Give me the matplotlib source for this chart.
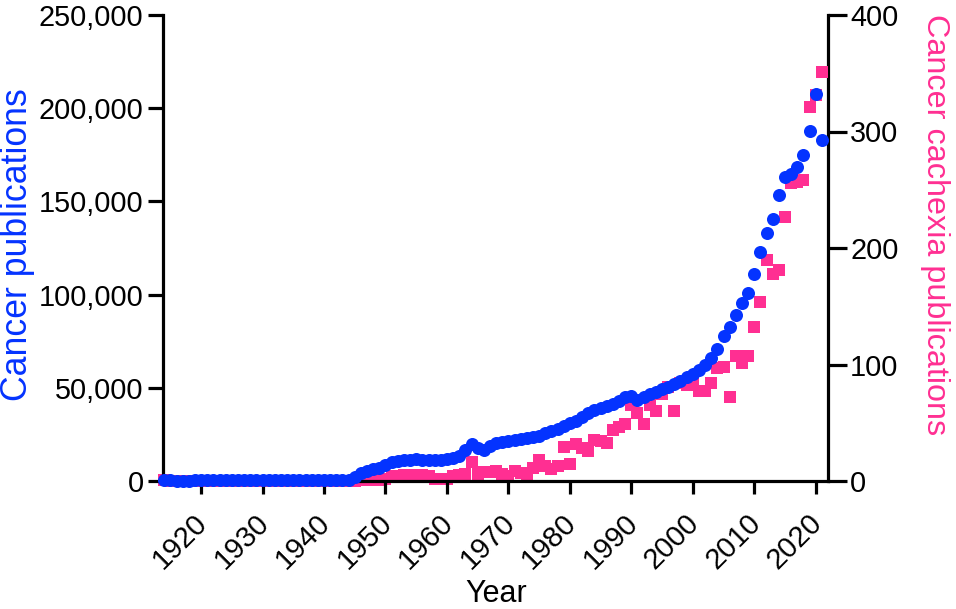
import matplotlib
matplotlib.use("Agg")
import matplotlib.pyplot as plt
import matplotlib.transforms as mtransforms
from matplotlib.ticker import FuncFormatter

plt.rcParams['font.family'] = ['Liberation Sans', 'DejaVu Sans']

years = list(range(1914, 2022))

cancer_pubs = [
    300, 280, 250, 220, 240, 300, 350, 380, 400, 420,
    450, 480, 500, 520, 540, 560, 580, 600, 620, 640,
    650, 660, 680, 700, 690, 650, 600, 550, 520, 560, 700,      # 1914-1944
    2000, 4100, 5500, 6500, 7000, 8800, 10200, 10800, 11200, 11400,  # 1945-1954
    11600, 11300, 11100, 11100, 11300, 11600, 12300, 13500, 16500, 19800,  # 1955-1964
    17500, 16600, 18800, 20200, 20900, 21500, 22000, 22700, 23200, 23800,  # 1965-1974
    24300, 25600, 26800, 28100, 29700, 31100, 32400, 34500, 36600, 38300,  # 1975-1984
    39300, 40400, 41300, 43100, 45200, 45800, 43500, 45100, 46500, 47900,  # 1985-1994
    49400, 50600, 52200, 53800, 55600, 57400, 59600, 62200, 66000, 70700,  # 1995-2004
    77600, 82800, 89000, 95500, 101100, 111200, 122600, 132900, 140400, 153400,  # 2005-2014
    163300, 164500, 168600, 174900, 187900, 207500, 182900,  # 2015-2021
]

cachexia_pubs = [
    1, 0, 0, 0, 0, 0, 0, 0, 0, 0,
    0, 0, 0, 0, 0, 0, 0, 0, 0, 0,
    0, 0, 0, 0, 0, 0, 0, 0, 0, 0, 0, 0,    # 1914-1945
    1, 1, 1, 1, 2, 4, 4, 5, 5,             # 1946-1954
    4, 5, 4, 2, 2, 2, 4, 5, 6, 16,         # 1955-1964
    6, 8, 8, 9, 6, 4, 9, 7, 5, 11,         # 1965-1974
    18, 13, 10, 13, 29, 15, 32, 28, 26, 35,  # 1975-1984
    34, 33, 44, 46, 49, 65, 58, 49, 65, 60,  # 1985-1994
    75, 81, 60, 84, 82, 85, 77, 77, 84, 97,  # 1995-2004
    98, 72, 107, 101, 107, 132, 154, 190, 178, 181,  # 2005-2014
    227, 256, 257, 258, 321, 331, 351,     # 2015-2021
]

left_ticks = [0, 50000, 100000, 150000, 200000, 250000]
right_ticks = [0, 100, 200, 300, 400]
x_ticks = [1920, 1930, 1940, 1950, 1960, 1970, 1980, 1990, 2000, 2010, 2020]

BLUE = '#0433FF'
PINK = '#FF2F92'

W, H = 956, 609
fig = plt.figure(figsize=(W / 100, H / 100), dpi=100)
ax = fig.add_axes([163 / W, 1 - 481 / H, (828 - 163) / W, (481 - 15) / H])
ax2 = ax.twinx()

ax2.scatter(years, cachexia_pubs, marker='s', s=82, color=PINK, linewidths=0,
            clip_on=False, zorder=3)
ax.scatter(years, cancer_pubs, marker='o', s=88, color=BLUE, linewidths=0,
           clip_on=False, zorder=4)

ax.set_zorder(ax2.get_zorder() + 1)
ax.patch.set_visible(False)

ax.set_xlim(1913.8, 2022)
ax.set_ylim(0, 250000)
ax2.set_ylim(0, 400)

ax.set_xticks(x_ticks)
ax.set_yticks(left_ticks)
ax2.set_yticks(right_ticks)
ax.yaxis.set_major_formatter(FuncFormatter(lambda v, p: f"{int(v):,}"))

lw = 2.3
for a in (ax, ax2):
    a.spines['top'].set_visible(False)
    for s in a.spines.values():
        s.set_linewidth(lw)
ax.spines['right'].set_visible(False)
ax2.spines['left'].set_visible(False)
ax2.spines['bottom'].set_visible(False)

ax.tick_params(axis='x', direction='out', length=9.5, width=lw, labelsize=21, pad=6)
ax.tick_params(axis='y', direction='out', length=11, width=lw, labelsize=20.8, pad=3)
ax2.tick_params(axis='y', direction='out', length=14, width=lw, labelsize=20.8, pad=2)

shift = mtransforms.ScaledTranslation(-0.08, -0.06, fig.dpi_scale_trans)
for lab in ax.get_xticklabels():
    lab.set_rotation(45)
    lab.set_ha('right')
    lab.set_va('top')
    lab.set_rotation_mode('anchor')
    lab.set_transform(lab.get_transform() + shift)

fig.text(496 / W, 1 - 594 / H, 'Year', fontsize=22, ha='center', va='center')
fig.text(18 / W, 1 - 245 / H, 'Cancer publications', fontsize=25.7, color=BLUE,
         rotation=90, ha='center', va='center')
fig.text(935 / W, 1 - 225 / H, 'Cancer cachexia publications', fontsize=23.3,
         color=PINK, rotation=270, ha='center', va='center')

fig.savefig('out.png', dpi=100)
